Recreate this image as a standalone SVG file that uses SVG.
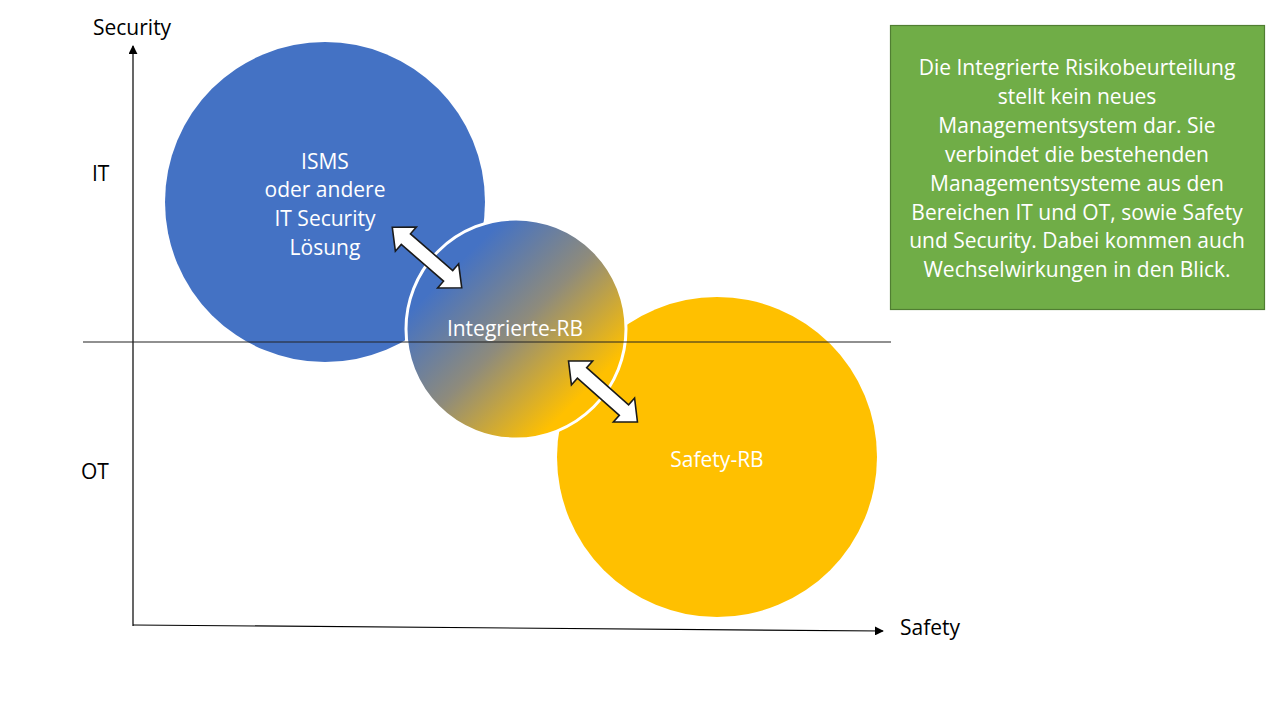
<svg xmlns="http://www.w3.org/2000/svg" width="1280" height="721" viewBox="0 0 1280 721">
<style>
.lbl{font-family:"Open Sans","Liberation Sans",sans-serif;font-size:21px;fill:#000}
.wt{font-family:"Open Sans","Liberation Sans",sans-serif;font-size:21px;fill:#fff;text-anchor:middle}
.axis{stroke:#000;stroke-width:1.2;fill:none}
.blk{fill:#fff;stroke:#1a1a1a;stroke-width:1.6;stroke-linejoin:miter}
</style>
<defs>
<linearGradient id="grad" x1="0" y1="0" x2="1" y2="1">
<stop offset="0.22" stop-color="#4472C4"/>
<stop offset="0.5" stop-color="#8E8B7C"/>
<stop offset="0.8" stop-color="#FFC000"/>
</linearGradient>
<marker id="ah" viewBox="0 0 10 10" refX="9" refY="5" markerWidth="9" markerHeight="9" markerUnits="userSpaceOnUse" orient="auto">
<path d="M0,0 L10,5 L0,10 z" fill="#000"/>
</marker>
<polygon id="darrow" points="-46,0 -28,-16 -28,-7 28,-7 28,-16 46,0 28,16 28,7 -28,7 -28,16"/>
</defs>
<rect width="1280" height="721" fill="#fff"/>
<g id="isms">
<circle cx="325" cy="202" r="160" fill="#4472C4"/>
<text class="wt" font-size="22" x="325" y="169">ISMS</text>
<text class="wt" font-size="22" x="325" y="197">oder andere</text>
<text class="wt" font-size="22" x="325" y="226">IT Security</text>
<text class="wt" font-size="22" x="325" y="255">Lösung</text>
</g>
<g id="safety-rb">
<circle cx="717" cy="457" r="160" fill="#FFC000"/>
<text class="wt" font-size="20" x="717" y="467">Safety-RB</text>
</g>
<g id="integrierte-rb">
<circle cx="516" cy="329" r="110" fill="url(#grad)" stroke="#fff" stroke-width="3"/>
<text class="wt" font-size="21" x="515" y="336">Integrierte-RB</text>
</g>
<g id="connectors">
<use href="#darrow" class="blk" transform="translate(427,257.5) rotate(41)"/>
<use href="#darrow" class="blk" transform="translate(603,391.5) rotate(41.5)"/>
<line class="axis" x1="133" y1="626" x2="133" y2="46" marker-end="url(#ah)"/>
<line class="axis" x1="133" y1="625" x2="883" y2="631" marker-end="url(#ah)"/>
<line x1="83" y1="342" x2="891" y2="342" stroke="#222" stroke-width="1.2"/>
</g>
<g id="axis-labels">
<text class="lbl" x="93" y="35">Security</text>
<text class="lbl" x="92" y="181">IT</text>
<text class="lbl" x="81" y="479">OT</text>
<text class="lbl" x="900" y="635">Safety</text>
</g>
<g id="info-box">
<rect x="890.5" y="25.5" width="374" height="284" fill="#70AD47" stroke="#507E32" stroke-width="1.2"/>
<text class="wt" x="1077" y="75">Die Integrierte Risikobeurteilung</text>
<text class="wt" x="1077" y="104">stellt kein neues</text>
<text class="wt" x="1077" y="133">Managementsystem dar. Sie</text>
<text class="wt" x="1077" y="162">verbindet die bestehenden</text>
<text class="wt" x="1077" y="191">Managementsysteme aus den</text>
<text class="wt" x="1077" y="220">Bereichen IT und OT, sowie Safety</text>
<text class="wt" x="1077" y="248">und Security. Dabei kommen auch</text>
<text class="wt" x="1077" y="277">Wechselwirkungen in den Blick.</text>
</g>
</svg>
